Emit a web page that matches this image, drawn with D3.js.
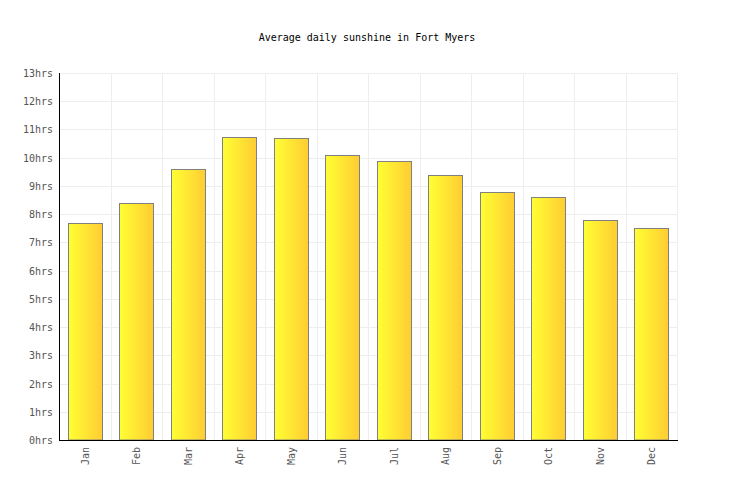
<!DOCTYPE html>
<html>
<head>
<meta charset="utf-8">
<script src="https://cdn.jsdelivr.net/npm/d3@7"></script>
<style>
  body { margin: 0; background: #fff; }
  text { font-family: "DejaVu Sans Mono", monospace; }
</style>
</head>
<body>
<svg id="chart" width="736" height="500"></svg>
<script>
let months = ['Jan', 'Feb', 'Mar', 'Apr', 'May', 'Jun', 'Jul', 'Aug', 'Sep', 'Oct', 'Nov', 'Dec'];
let sunshine = [7.7, 8.4, 9.6, 10.75, 10.7, 10.1, 9.9, 9.4, 8.8, 8.6, 7.8, 7.5];
let yTicks = [0, 1, 2, 3, 4, 5, 6, 7, 8, 9, 10, 11, 12, 13];

let svg = d3.select('#chart');
let plotLeft = 59, plotRight = 677, plotTop = 73, plotBottom = 440;

let x = d3.scaleBand().domain(months).range([plotLeft, plotRight]).paddingInner(0.34).paddingOuter(0.17);
let y = d3.scaleLinear().domain([0, 13]).range([plotBottom, plotTop]);

let grad = svg.append('defs').append('linearGradient')
  .attr('id', 'barGrad').attr('x1', '0%').attr('x2', '100%').attr('y1', '0%').attr('y2', '0%');
grad.append('stop').attr('offset', '0%').attr('stop-color', '#ffff33');
grad.append('stop').attr('offset', '100%').attr('stop-color', '#ffcc33');

// grid
let step = x.step();
svg.append('g').selectAll('line')
  .data(d3.range(1, months.length + 1))
  .enter()
  .append('line')
  .attr('x1', (i) => Math.round(plotLeft + i * step) + 0.5)
  .attr('x2', (i) => Math.round(plotLeft + i * step) + 0.5)
  .attr('y1', plotTop).attr('y2', plotBottom)
  .attr('stroke', '#eeeeee');

svg.append('g').selectAll('line')
  .data(yTicks.slice(1))
  .enter()
  .append('line')
  .attr('x1', plotLeft).attr('x2', plotRight)
  .attr('y1', (d) => Math.round(y(d)) + 0.5)
  .attr('y2', (d) => Math.round(y(d)) + 0.5)
  .attr('stroke', '#eeeeee');

// bars
svg.append('g').selectAll('rect')
  .data(sunshine)
  .enter()
  .append('rect')
  .attr('x', (d, i) => Math.round(x(months[i])) + 0.5)
  .attr('y', (d) => Math.round(y(d)) + 0.5)
  .attr('width', Math.round(x.bandwidth()))
  .attr('height', (d) => plotBottom - Math.round(y(d)) - 0.5)
  .attr('fill', 'url(#barGrad)')
  .attr('stroke', '#808080')
  .attr('stroke-width', 1);

// axes
svg.append('line')
  .attr('x1', plotLeft + 0.5).attr('x2', plotLeft + 0.5)
  .attr('y1', plotTop).attr('y2', plotBottom + 0.5)
  .attr('stroke', '#000');
svg.append('line')
  .attr('x1', plotLeft).attr('x2', plotRight + 1)
  .attr('y1', plotBottom + 0.5).attr('y2', plotBottom + 0.5)
  .attr('stroke', '#000');

svg.append('g').selectAll('text')
  .data(yTicks)
  .enter()
  .append('text')
  .attr('x', 53)
  .attr('y', (d) => y(d) + 4)
  .attr('text-anchor', 'end')
  .attr('font-size', 10)
  .attr('fill', '#555')
  .text((d) => d + 'hrs');

svg.append('g').selectAll('text')
  .data(months)
  .enter()
  .append('text')
  .attr('transform', (d) => `translate(${x(d) + x.bandwidth() / 2 + 4},447) rotate(-90)`)
  .attr('text-anchor', 'end')
  .attr('font-size', 10)
  .attr('fill', '#555')
  .text((d) => d);

svg.append('text')
  .attr('x', 367)
  .attr('y', 41)
  .attr('text-anchor', 'middle')
  .attr('font-size', 10)
  .attr('fill', '#000')
  .text('Average daily sunshine in Fort Myers');
</script>
</body>
</html>
